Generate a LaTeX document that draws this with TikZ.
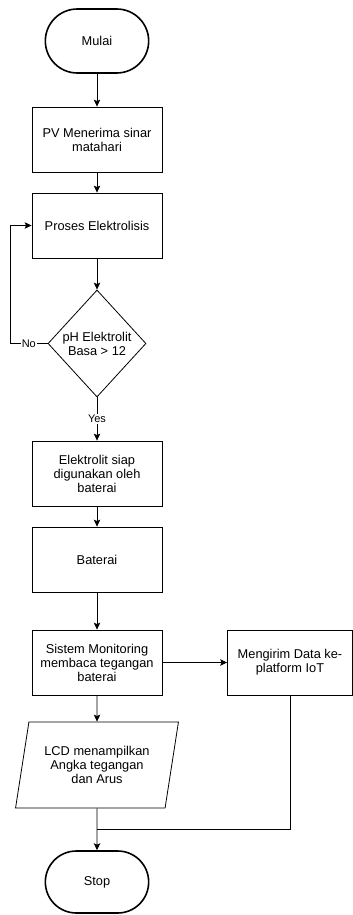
\documentclass[tikz,border=0pt]{standalone}
\usepackage{fontspec}
\setmainfont{Liberation Sans}
\usetikzlibrary{arrows.meta,positioning,shapes.geometric,shapes.misc}

\begin{document}
\begin{tikzpicture}[x=1pt,y=-1pt,>={Stealth[length=7pt,width=6.5pt,inset=1.5pt]},
  font=\fontsize{12.8}{14}\selectfont,
  terminal/.style={draw,rounded rectangle,line width=1.6pt,minimum width=110pt,minimum height=64pt},
  procbox/.style={draw,rectangle,line width=.8pt,minimum width=130pt,minimum height=65pt,align=center},
  decision/.style={draw,diamond,line width=.8pt,minimum width=98pt,minimum height=107pt,inner sep=0pt,aspect=.92,align=center},
  iobox/.style={draw,trapezium,trapezium left angle=76,trapezium right angle=104,trapezium stretches=true,
    line width=.8pt,minimum width=163pt,minimum height=86pt,align=center},
  flow/.style={->,line width=.8pt},
  tag/.style={fill=white,inner sep=1pt,font=\fontsize{11}{13}\selectfont}]
  \useasboundingbox (0,0) rectangle (353,915);
  \node[terminal] (start) at (97,41) {Mulai};
  \node[procbox] (pv) at (97,139.5) {PV Menerima sinar\\matahari};
  \node[procbox] (elek) at (97,225.5) {Proses Elektrolisis};
  \node[decision] (dec) at (97,343.5) {pH Elektrolit\\Basa > 12};
  \node[procbox] (ready) at (97,473.5) {Elektrolit siap\\digunakan oleh\\baterai};
  \node[procbox] (bat) at (97,559.5) {Baterai};
  \node[procbox] (mon) at (97,662.5) {Sistem Monitoring\\membaca tegangan\\baterai};
  \node[procbox,minimum width=125pt] (send) at (290,662.5) {Mengirim Data ke-\\platform IoT};
  \node[iobox] (lcd) at (97,765) {LCD menampilkan\\Angka tegangan\\dan Arus};
  \node[terminal,minimum height=62pt] (stop) at (97,882) {Stop};
  \coordinate (loopcorner) at (10,343.5);
  \coordinate (join) at (97,829);

  \foreach \a/\b in {start/pv,pv/elek,elek/dec,ready/bat,bat/mon,mon/lcd,lcd/stop}
    \draw[flow] (\a.south) -- (\b.north);
  \draw[flow] (dec.south) -- node[tag]{Yes} (ready.north);
  \draw[flow] (dec.west) -- node[tag]{No} (loopcorner) |- (elek.west);
  \draw[flow] (mon.east) -- (send.west);
  \draw[line width=.8pt] (send.south) |- (join);
\end{tikzpicture}
\end{document}
